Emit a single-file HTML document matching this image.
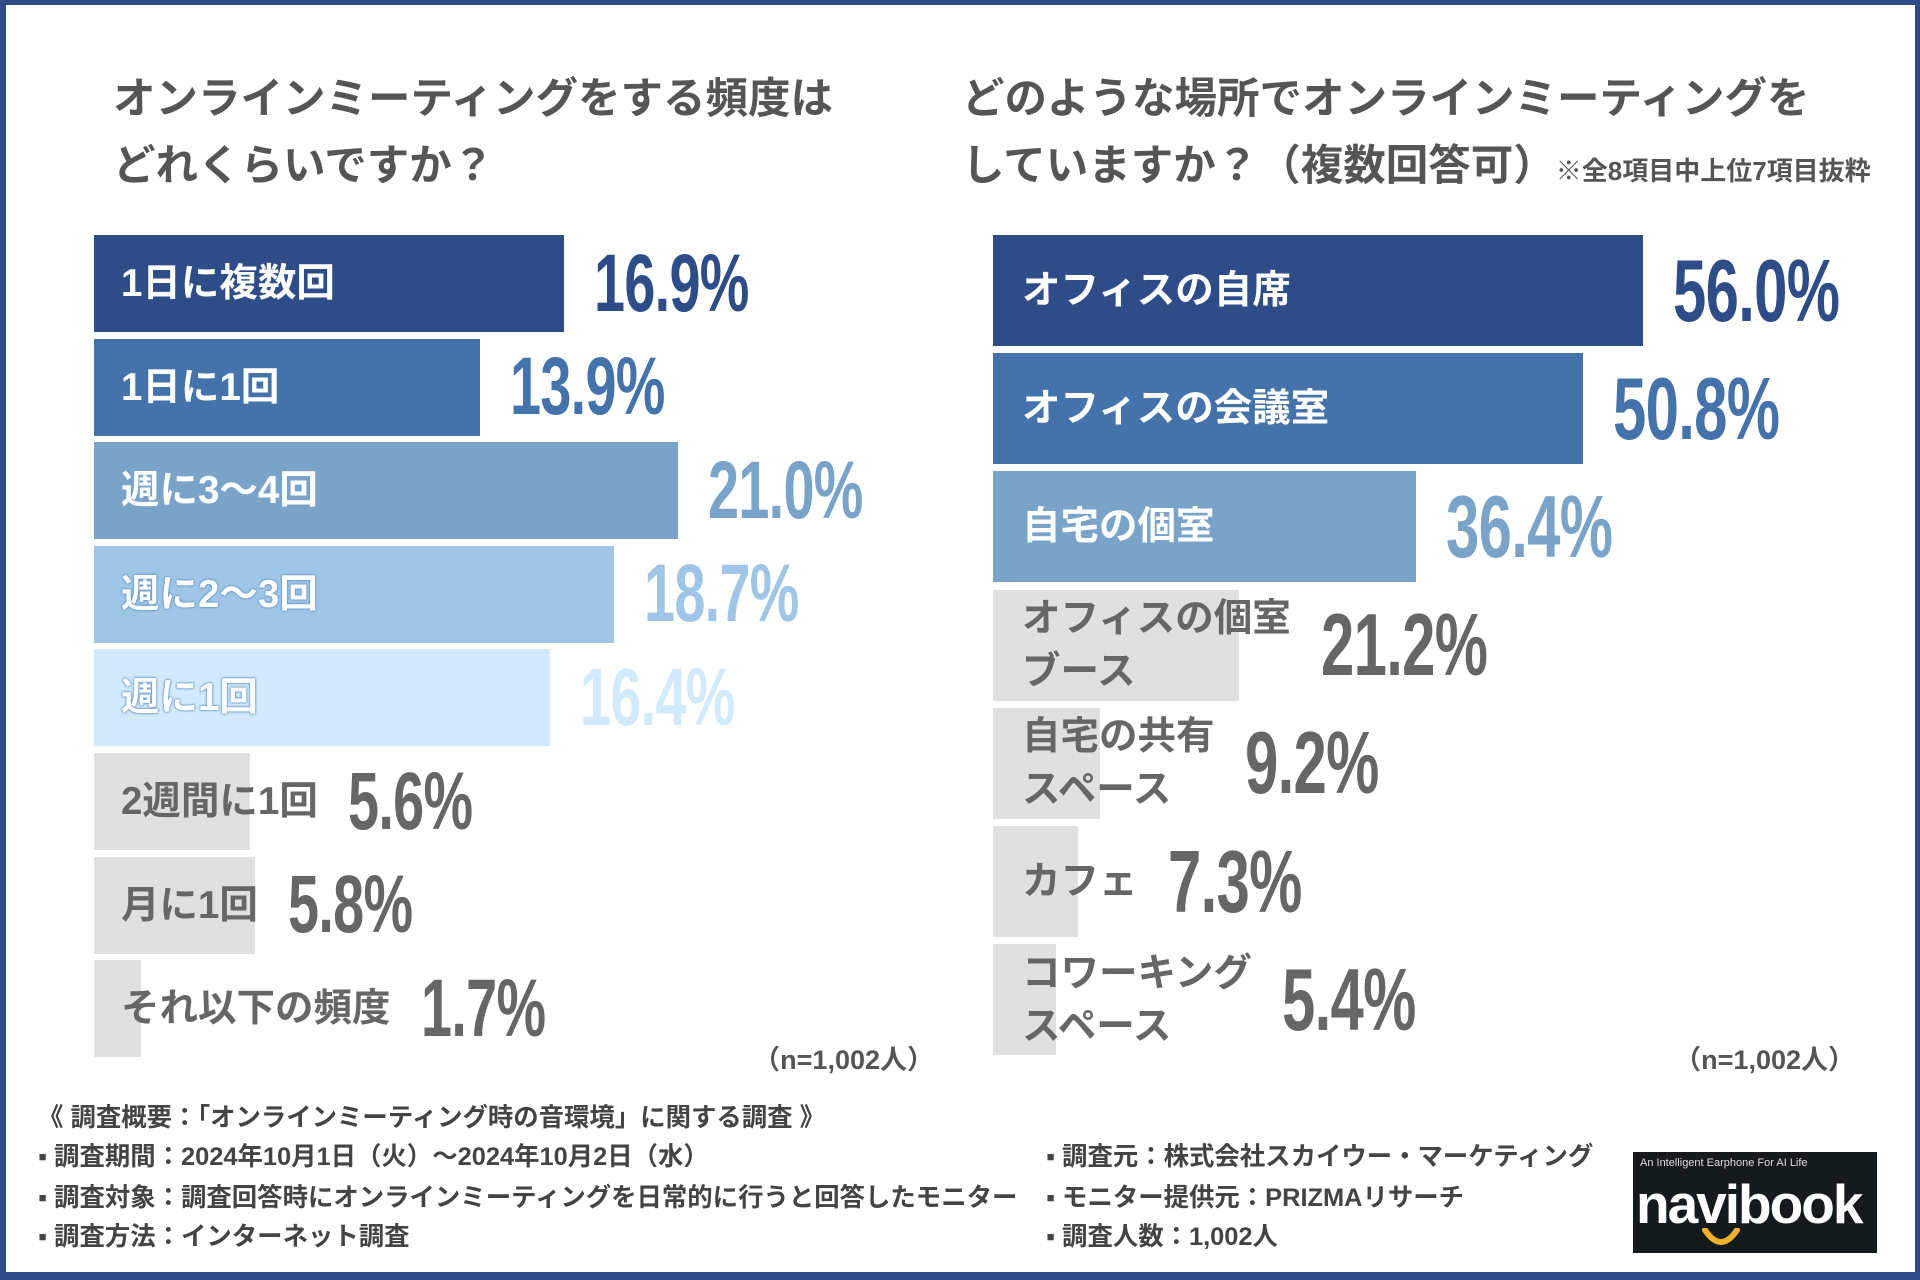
<!DOCTYPE html>
<html><head><meta charset="utf-8">
<style>
*{margin:0;padding:0;box-sizing:border-box}
body{width:1920px;height:1280px;overflow:hidden;background:#fff;font-family:"Liberation Sans","Noto Sans CJK JP",sans-serif;position:relative}
#frame{position:absolute;left:0;top:0;width:1920px;height:1280px;border:solid #2e4c87;border-width:5px 5px 8px 6px;pointer-events:none}
.title{position:absolute;font-weight:bold;color:#555;font-size:42.5px;line-height:67px;white-space:nowrap}
.title small{font-size:26px;color:#555}
.bar{position:absolute}
.lab{position:absolute;font-weight:bold;font-size:39.5px;white-space:nowrap;line-height:53px}
.val{position:absolute;font-weight:bold;white-space:nowrap;transform-origin:0 50%;letter-spacing:-1px}
.n{position:absolute;font-weight:bold;font-size:27px;color:#555;white-space:nowrap}
.ft{position:absolute;font-weight:bold;font-size:25.4px;color:#444;white-space:nowrap;line-height:30px}
</style></head><body>
<div id="frame"></div>
<div class="title" style="left:113px;top:66px">オンラインミーティングをする頻度は<br>どれくらいですか？</div>
<div class="title" style="left:962px;top:66px">どのような場所でオンラインミーティングを<br>していますか？（複数回答可）<small>※全8項目中上位7項目抜粋</small></div>
<div id="left"></div>
<div id="right"></div>
<div class="n" style="right:986px;top:1038px">（n=1,002人）</div>
<div class="n" style="right:65px;top:1038px">（n=1,002人）</div>
<div class="ft" style="left:38px;top:1103px">《 調査概要：「オンラインミーティング時の音環境」に関する調査 》</div>
<div class="ft" style="left:38px;top:1142px">▪ 調査期間：2024年10月1日（火）〜2024年10月2日（水）</div>
<div class="ft" style="left:38px;top:1183px">▪ 調査対象：調査回答時にオンラインミーティングを日常的に行うと回答したモニター</div>
<div class="ft" style="left:38px;top:1222px">▪ 調査方法：インターネット調査</div>
<div class="ft" style="left:1046px;top:1142px">▪ 調査元：株式会社スカイウー・マーケティング</div>
<div class="ft" style="left:1046px;top:1183px">▪ モニター提供元：PRIZMAリサーチ</div>
<div class="ft" style="left:1046px;top:1222px">▪ 調査人数：1,002人</div>
<div style="position:absolute;left:1633px;top:1152px;width:244px;height:101px;background:#151a1d;overflow:hidden">
 <div style="position:absolute;left:7px;top:5px;font-size:11px;color:#ddd;font-family:'Liberation Sans',sans-serif">An Intelligent Earphone For AI Life</div>
 <div style="position:absolute;left:3px;top:20px;font-size:55px;font-weight:bold;color:#fff;letter-spacing:-2px;font-family:'Liberation Sans',sans-serif">navibook</div>
 <svg style="position:absolute;left:68px;top:76px" width="40" height="20"><path d="M4 2 Q20 26 36 2" stroke="#f2b12a" stroke-width="6" fill="none" stroke-linecap="round"/></svg>
</div>
<script>
const leftLabels=["1日に複数回","1日に1回","週に3〜4回","週に2〜3回","週に1回","2週間に1回","月に1回","それ以下の頻度"];
const leftValues=[16.9,13.9,21.0,18.7,16.4,5.6,5.8,1.7];
const leftColors=["#2e4c87","#4472ab","#79a3c8","#9fc6e7","#d1eafd","#e0e0e0","#e0e0e0","#e0e0e0"];
const rightLabels=["オフィスの自席","オフィスの会議室","自宅の個室","オフィスの個室<br>ブース","自宅の共有<br>スペース","カフェ","コワーキング<br>スペース"];
const rightValues=[56.0,50.8,36.4,21.2,9.2,7.3,5.4];
const rightColors=["#2e4c87","#4472ab","#79a3c8","#e0e0e0","#e0e0e0","#e0e0e0","#e0e0e0"];
const valColors=["#2e4c87","#4472ab","#79a3c8","#9fc6e7","#d1eafd"];

function draw(root,labels,values,colors,cfg){
  labels.forEach((lab,i)=>{
    const top=cfg.y0+i*cfg.pitch, w=values[i]*cfg.scale, gray=colors[i]==="#e0e0e0";
    const b=document.createElement('div');b.className='bar';
    
    
    b.style.cssText=`left:${cfg.x0}px;top:${top}px;width:${w}px;height:${cfg.h}px;background:${colors[i]}`;
    root.appendChild(b);
    const l=document.createElement('div');l.className='lab';
    
    
    l.innerHTML=lab;
    l.style.fontSize=cfg.lfs+'px';
    l.style.color=gray?'#666':'#fff';
    if(!gray&&i>=3) l.style.textShadow='0 0 2px #5f8fc4,0 0 2px #5f8fc4,0 0 1px #5f8fc4';
    l.style.left=(cfg.x0+cfg.pad)+'px';
    root.appendChild(l);
    l.style.top=(top+cfg.h/2-l.offsetHeight/2)+'px';
    const v=document.createElement('div');v.className='val';
    
    
    v.textContent=values[i].toFixed(1)+'%';
    v.style.fontSize=cfg.fs+'px';
    v.style.color=gray?'#666':valColors[i];
    v.style.transform='scaleX(0.68)';
    root.appendChild(v);
    const end=Math.max(cfg.x0+w, cfg.x0+cfg.pad+l.offsetWidth);
    v.style.left=(end+cfg.gap)+'px';
    v.style.top=(top+cfg.h/2-v.offsetHeight/2)+'px';
  });
}
draw(document.getElementById('left'),leftLabels,leftValues,leftColors,{id:'left',x0:94,y0:235,h:97,pitch:103.6,scale:27.8,pad:27,fs:82,lfs:38.5,gap:30});
draw(document.getElementById('right'),rightLabels,rightValues,rightColors,{id:'right',x0:993,y0:235,h:111,pitch:118.2,scale:11.61,pad:29,fs:88,lfs:38.5,gap:30});
</script>
</body></html>
